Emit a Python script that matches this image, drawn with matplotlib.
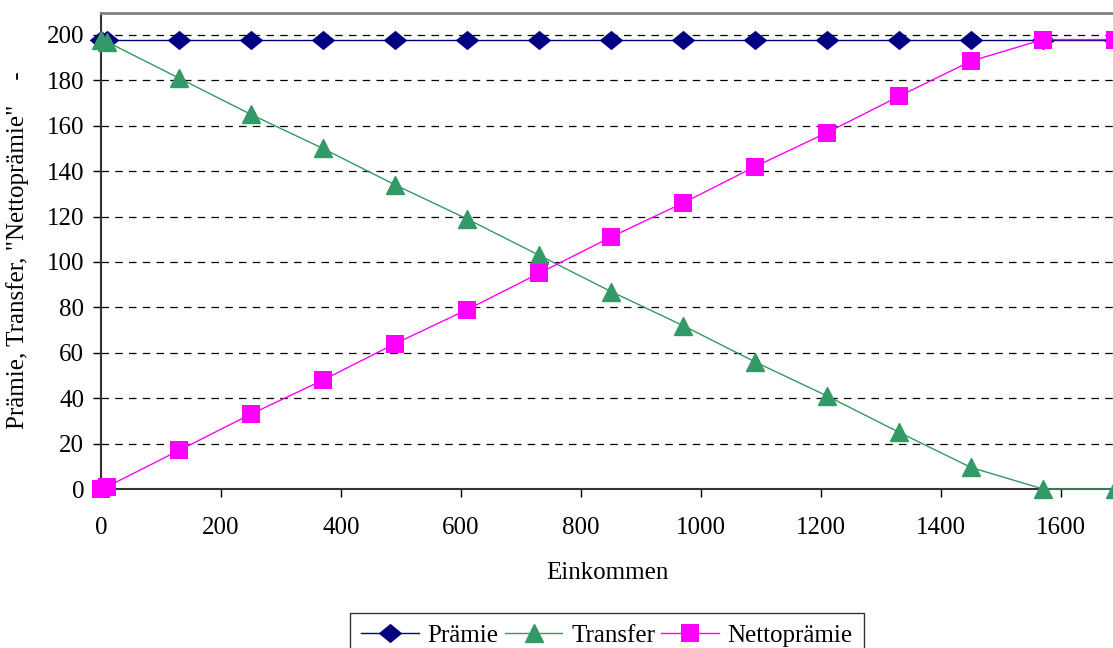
import matplotlib
matplotlib.use("Agg")
import matplotlib.pyplot as plt

einkommen = [0, 10, 130, 250, 370, 490, 610, 730, 850, 970, 1090, 1210, 1330, 1450, 1570, 1690]
praemie = [198] * 16
transfer = [198, 197, 181, 165, 150, 134, 119, 103, 87, 72, 56, 41, 25, 9.5, 0, 0]
nettopraemie = [0, 1, 17, 33, 48, 64, 79, 95, 111, 126, 142, 157, 173, 188.5, 198, 198]
yticks = list(range(0, 201, 20))
xticks = list(range(0, 1601, 200))

plt.rcParams['font.family'] = ['Liberation Serif', 'DejaVu Serif']
FS = 18

fig = plt.figure(figsize=(11.13, 6.48), dpi=100)
ax = fig.add_axes([101/1113, (648-489)/648, 1 - 101/1113 + 0.0, (489-13)/648])

diamond = [(-1, 0), (0, 0.82), (1, 0), (0, -0.82), (-1, 0)]
ax.plot(einkommen, praemie, color='#000080', lw=1, marker=diamond, ms=17,
        markerfacecolor='#000080', markeredgecolor='#000080', markeredgewidth=0,
        label='Prämie', clip_on=False, zorder=3)
ax.plot(einkommen, transfer, color='#339966', lw=1, marker='^', ms=13,
        markerfacecolor='#339966', markeredgecolor='#339966', label='Transfer', clip_on=False, zorder=4)
ax.plot(einkommen, nettopraemie, color='#FF00FF', lw=1, marker='s', ms=13,
        markerfacecolor='#FF00FF', markeredgecolor='#FF00FF', markeredgewidth=0,
        label='Nettoprämie', clip_on=False, zorder=5)

ax.set_xlim(0, (1113-101)/0.6)
ax.set_ylim(0, (489-13)/2.27)
ax.set_yticks(yticks)
ax.set_xticks(xticks)
ax.tick_params(axis='both', direction='out', length=6, width=1, labelsize=FS, color='black')
ax.tick_params(axis='y', pad=6)
ax.tick_params(axis='x', pad=14)
ax.yaxis.grid(True, linestyle=(0, (6, 5)), color='black', lw=0.9)
ax.set_axisbelow(True)

ax.spines['top'].set_color('#808080')
ax.spines['top'].set_linewidth(2)
ax.spines['right'].set_visible(False)
ax.spines['left'].set_linewidth(1.5)
ax.spines['bottom'].set_linewidth(1.5)
ax.spines['left'].set_color('#333333')
ax.spines['bottom'].set_color('#333333')

ax.set_xlabel('Einkommen', fontsize=FS, labelpad=17)
fig.text(18/1113, 1 - 250/648, 'Prämie, Transfer, "Nettoprämie"    -', rotation=90,
         fontsize=FS, ha='center', va='center')

leg = ax.legend(loc='upper center', bbox_to_anchor=(0.5, -(613-489)/476), ncol=3,
                fontsize=FS, frameon=True, fancybox=False, edgecolor='black',
                borderpad=0.45, handlelength=2.3, columnspacing=0.25, handletextpad=0.35,
                borderaxespad=0)
leg.get_frame().set_linewidth(1)

fig.savefig('out.png', dpi=100)
